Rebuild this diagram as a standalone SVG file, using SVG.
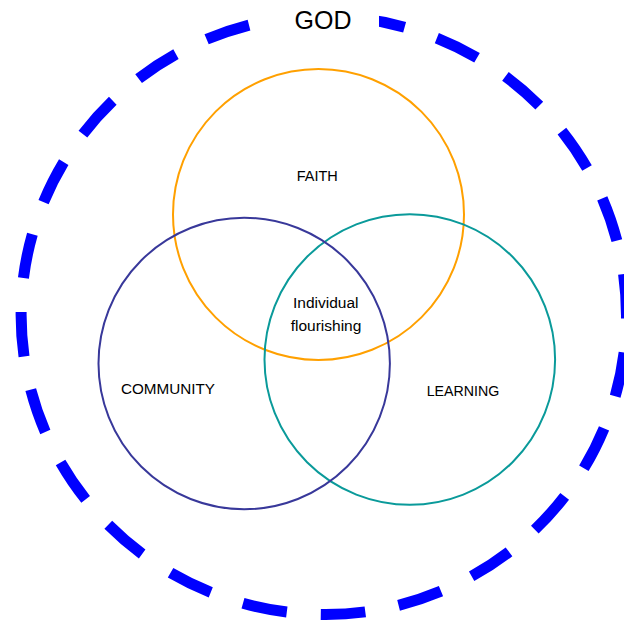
<svg xmlns="http://www.w3.org/2000/svg" width="624" height="620" viewBox="0 0 624 620">
  <style>
    .lbl { font-family: "Liberation Sans", Arial, sans-serif; font-size: 15.5px; fill: #000; text-anchor: middle; }
    .god { font-family: "Liberation Sans", Arial, sans-serif; font-size: 25px; fill: #000; text-anchor: middle; }
    .ring { fill: none; stroke-width: 2; }
  </style>
  <rect width="624" height="620" fill="#ffffff"/>
  <g id="god">
    <path d="M365.3 611.9 A304.5 299.5 0 0 1 282.3 18.5 A304.5 299.5 0 0 1 365.3 611.9 Z" pathLength="24" fill="none" stroke="#0000ff" stroke-width="11" stroke-dasharray="0.568 0.432"/>
    <rect x="266" y="0" width="113" height="40" fill="#ffffff"/>
    <text class="god" x="323" y="29.3">GOD</text>
  </g>
  <g id="faith">
    <circle class="ring" cx="318.5" cy="214.5" r="145.5" stroke="#ffa000"/>
    <text class="lbl" x="317.2" y="181" textLength="41" lengthAdjust="spacingAndGlyphs">FAITH</text>
  </g>
  <g id="learning">
    <circle class="ring" cx="409.8" cy="359.5" r="145.3" stroke="#0a9a9a"/>
    <text class="lbl" x="463" y="396" textLength="72.6" lengthAdjust="spacingAndGlyphs">LEARNING</text>
  </g>
  <g id="community">
    <circle class="ring" cx="244.2" cy="363.5" r="145.7" stroke="#38389a"/>
    <text class="lbl" x="168" y="394" textLength="94" lengthAdjust="spacingAndGlyphs">COMMUNITY</text>
  </g>
  <g id="flourishing">
    <text class="lbl" x="325.8" y="308.3">Individual</text>
    <text class="lbl" x="326" y="330.7">flourishing</text>
  </g>
  <g id="connectors"></g>
</svg>
